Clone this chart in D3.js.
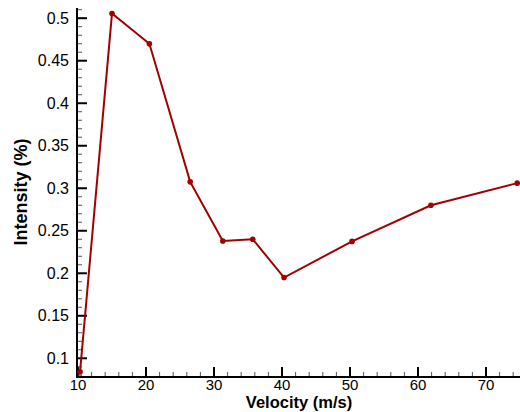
<!DOCTYPE html>
<html><head><meta charset="utf-8">
<script src="https://cdn.jsdelivr.net/npm/d3@7"></script>
<style>body{margin:0;background:#fff}svg{display:block}</style>
</head><body>
<svg id="c" width="520" height="412"></svg>
<script>
const velocity = [10.3, 15.0, 20.5, 26.5, 31.3, 35.7, 40.3, 50.3, 61.9, 74.6];
const intensity = [0.084, 0.5055, 0.470, 0.3075, 0.238, 0.240, 0.195, 0.2375, 0.280, 0.306];
const xTicks = [10, 20, 30, 40, 50, 60, 70];
const yTicks = [0.1, 0.15, 0.2, 0.25, 0.3, 0.35, 0.4, 0.45, 0.5];
const xMinor = d3.range(10, 76, 2);
const yMinor = d3.range(8, 52, 1).map(v => v / 100);

const svg = d3.select("#c");
const x = d3.scaleLinear().domain([10, 75]).range([78, 520]);
const y = d3.scaleLinear().domain([0.078, 0.512]).range([377, 8]);
const font = "'Liberation Sans', Arial, sans-serif";

// minor ticks
const gx = svg.append("g");
gx.selectAll("line.mx").data(xMinor.filter(v => v % 10 !== 0)).join("line")
  .attr("x1", d => x(d)).attr("x2", d => x(d)).attr("y1", 377).attr("y2", 372)
  .attr("stroke", "#555").attr("stroke-width", 1);
gx.selectAll("line.Mx").data(xTicks).join("line")
  .attr("x1", d => x(d)).attr("x2", d => x(d)).attr("y1", 377).attr("y2", 367)
  .attr("stroke", "#000").attr("stroke-width", 2);
gx.selectAll("text").data(xTicks).join("text")
  .attr("x", d => x(d)).attr("y", 389.5).attr("text-anchor", "middle")
  .attr("font-family", font).attr("font-size", 15).text(d => d);

const gy = svg.append("g");
gy.selectAll("line.my").data(yMinor.filter(v => Math.round(v * 100) % 5 !== 0)).join("line")
  .attr("x1", 77).attr("x2", 82).attr("y1", d => y(d)).attr("y2", d => y(d))
  .attr("stroke", "#555").attr("stroke-width", 1);
gy.selectAll("line.My").data(yTicks).join("line")
  .attr("x1", 77).attr("x2", 87).attr("y1", d => y(d)).attr("y2", d => y(d))
  .attr("stroke", "#000").attr("stroke-width", 2);
gy.selectAll("text").data(yTicks).join("text")
  .attr("x", 69).attr("y", d => y(d) + 5.5).attr("text-anchor", "end")
  .attr("font-family", font).attr("font-size", 16).text(d => d);

// axis lines
svg.append("line").attr("x1", 77).attr("x2", 520).attr("y1", 377).attr("y2", 377)
  .attr("stroke", "#000").attr("stroke-width", 2);
svg.append("line").attr("x1", 77).attr("x2", 77).attr("y1", 8).attr("y2", 378)
  .attr("stroke", "#000").attr("stroke-width", 2);

// data
const pts = velocity.map((v, i) => [v, intensity[i]]);
svg.append("path").datum(pts)
  .attr("d", d3.line().x(d => x(d[0])).y(d => y(d[1])))
  .attr("fill", "none").attr("stroke", "#a00000").attr("stroke-width", 2);
svg.selectAll("circle").data(pts).join("circle")
  .attr("cx", d => x(d[0])).attr("cy", d => y(d[1])).attr("r", 2.8)
  .attr("fill", "#a00000");

// labels
svg.append("text").attr("x", 299).attr("y", 407.5).attr("text-anchor", "middle")
  .attr("font-family", font).attr("font-weight", "bold").attr("font-size", 16.5)
  .text("Velocity (m/s)");
svg.append("text").attr("transform", "translate(27,192) rotate(-90)")
  .attr("text-anchor", "middle")
  .attr("font-family", font).attr("font-weight", "bold").attr("font-size", 18)
  .text("Intensity (%)");
</script>
</body></html>
